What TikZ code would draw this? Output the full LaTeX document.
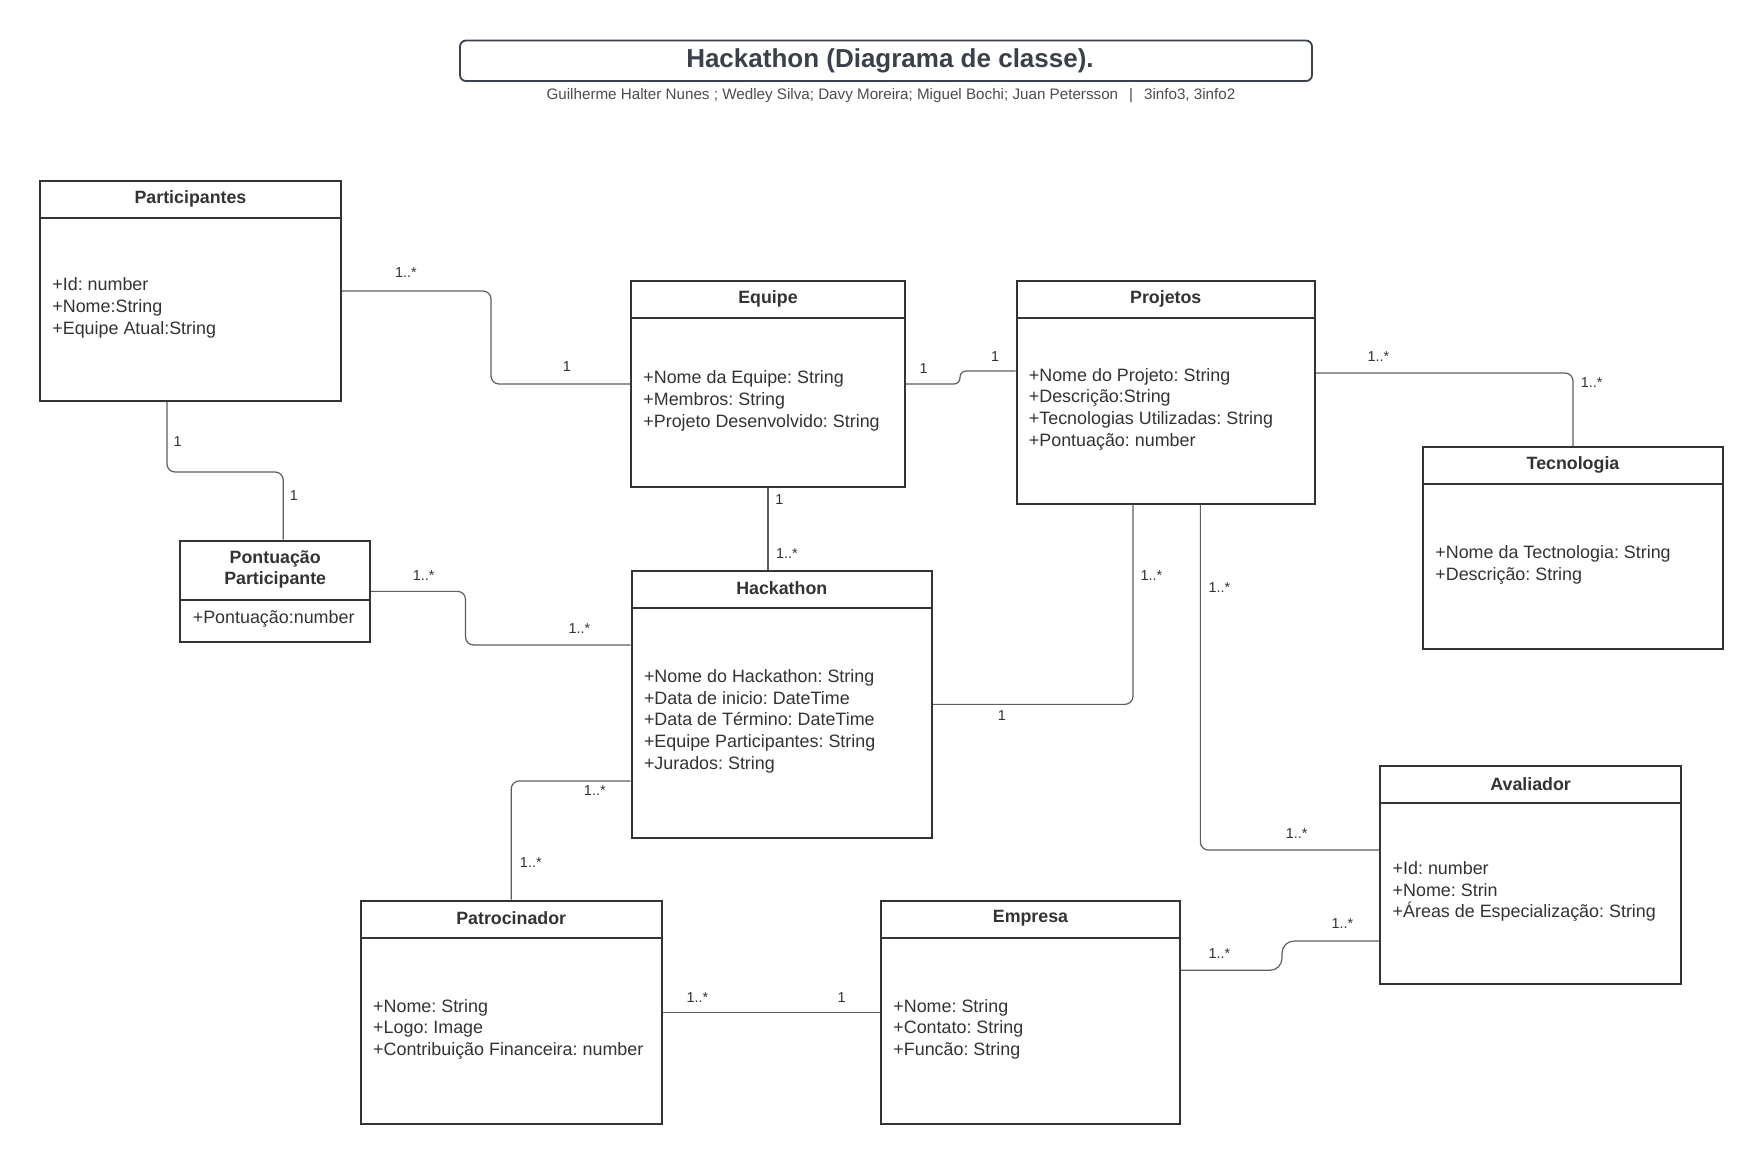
\documentclass[tikz,border=0pt]{standalone}
\usepackage{fontspec}
\setmainfont{Liberation Sans}
\usetikzlibrary{calc}
\definecolor{clsdark}{HTML}{333333}
\definecolor{txt}{HTML}{333333}
\definecolor{connclr}{HTML}{5E5E5E}
\definecolor{titleclr}{HTML}{3A414A}
\frenchspacing
\begin{document}
\begin{tikzpicture}[
    x=1pt,
    y=-1pt,
    font=\fontsize{8.95}{10.8}\selectfont,
    cls/.style={draw=clsdark, line width=1pt, anchor=north west, inner sep=0pt},
    clsname/.style={anchor=north, inner sep=0pt, align=center, text=txt, font=\fontsize{8.9}{10.5}\selectfont\bfseries},
    attrs/.style={anchor=west, inner sep=0pt, align=left, text=txt},
    conn/.style={draw=connclr, line width=0.6pt, rounded corners=4pt},
    mult/.style={inner sep=0pt, text=txt, font=\fontsize{7.2}{8}\selectfont}
]
\useasboundingbox[fill=white] (0,0) rectangle (881.5,581.5);

% title
\node[draw=titleclr, line width=0.9pt, rounded corners=3pt, minimum width=426pt, minimum height=20.25pt,
      inner sep=0pt] (title) at (443,30.4) {};
\node[inner sep=0pt, text=titleclr, font=\fontsize{13}{15}\selectfont\bfseries] (title-t) at (445,30.6)
      {Hackathon (Diagrama de classe).};
\node[inner sep=0pt, text=black!70, font=\fontsize{7.6}{9}\selectfont] (authors) at (445.5,48)
      {Guilherme Halter Nunes ; Wedley Silva; Davy Moreira; Miguel Bochi; Juan Petersson \ \,|\ \, 3info3, 3info2};

% classes
\node[cls, minimum width=150.5pt, minimum height=110pt] (participantes) at (19.5,90) {};
\node[clsname, minimum height=18.5pt] (participantes-t) at (participantes.north) {Participantes};
\draw[clsdark, line width=1pt] (participantes-t.south -| participantes.west) -- (participantes-t.south -| participantes.east);
\node[attrs] (participantes-a) at ($(participantes-t.south -| participantes.west)!0.5!(participantes.south west)+(6.5,-1)$)
      {+Id: number\\+Nome:String\\+Equipe Atual:String};

\node[cls, minimum width=137pt, minimum height=103pt] (equipe) at (315,140) {};
\node[clsname, minimum height=18.5pt] (equipe-t) at (equipe.north) {Equipe};
\draw[clsdark, line width=1pt] (equipe-t.south -| equipe.west) -- (equipe-t.south -| equipe.east);
\node[attrs] (equipe-a) at ($(equipe-t.south -| equipe.west)!0.5!(equipe.south west)+(6.5,-1)$)
      {+Nome da Equipe: String\\+Membros: String\\+Projeto Desenvolvido: String};

\node[cls, minimum width=149.25pt, minimum height=111.25pt] (projetos) at (507.75,140) {};
\node[clsname, minimum height=18.5pt] (projetos-t) at (projetos.north) {Projetos};
\draw[clsdark, line width=1pt] (projetos-t.south -| projetos.west) -- (projetos-t.south -| projetos.east);
\node[attrs] (projetos-a) at ($(projetos-t.south -| projetos.west)!0.5!(projetos.south west)+(6.5,-1)$)
      {+Nome do Projeto: String\\+Descrição:String\\+Tecnologias Utilizadas: String\\+Pontuação: number};

\node[cls, minimum width=150pt, minimum height=100.75pt] (tecnologia) at (711,223) {};
\node[clsname, minimum height=18.5pt] (tecnologia-t) at (tecnologia.north) {Tecnologia};
\draw[clsdark, line width=1pt] (tecnologia-t.south -| tecnologia.west) -- (tecnologia-t.south -| tecnologia.east);
\node[attrs] (tecnologia-a) at ($(tecnologia-t.south -| tecnologia.west)!0.5!(tecnologia.south west)+(6.5,-1)$)
      {+Nome da Tectnologia: String\\+Descrição: String};

\node[cls, minimum width=94.8pt, minimum height=50.65pt] (pontuacao) at (89.7,269.85) {};
\node[clsname, minimum height=29.5pt] (pontuacao-t) at (pontuacao.north) {Pontuação\\Participante};
\draw[clsdark, line width=1pt] (pontuacao-t.south -| pontuacao.west) -- (pontuacao-t.south -| pontuacao.east);
\node[attrs] (pontuacao-a) at ($(pontuacao-t.south -| pontuacao.west)!0.5!(pontuacao.south west)+(6.5,-1)$)
      {+Pontuação:number};

\node[cls, minimum width=150.2pt, minimum height=133.65pt] (hackathon) at (315.3,284.85) {};
\node[clsname, minimum height=18.5pt] (hackathon-t) at (hackathon.north) {Hackathon};
\draw[clsdark, line width=1pt] (hackathon-t.south -| hackathon.west) -- (hackathon-t.south -| hackathon.east);
\node[attrs] (hackathon-a) at ($(hackathon-t.south -| hackathon.west)!0.5!(hackathon.south west)+(6.5,-1)$)
      {+Nome do Hackathon: String\\+Data de inicio: DateTime\\+Data de Término: DateTime\\+Equipe Participantes: String\\+Jurados: String};

\node[cls, minimum width=150.35pt, minimum height=108.85pt] (avaliador) at (689.65,382.5) {};
\node[clsname, minimum height=18.5pt] (avaliador-t) at (avaliador.north) {Avaliador};
\draw[clsdark, line width=1pt] (avaliador-t.south -| avaliador.west) -- (avaliador-t.south -| avaliador.east);
\node[attrs] (avaliador-a) at ($(avaliador-t.south -| avaliador.west)!0.5!(avaliador.south west)+(6.5,-1)$)
      {+Id: number\\+Nome: Strin\\+Áreas de Especialização: String};

\node[cls, minimum width=150.4pt, minimum height=111.65pt] (patrocinador) at (179.9,449.85) {};
\node[clsname, minimum height=18.5pt] (patrocinador-t) at (patrocinador.north) {Patrocinador};
\draw[clsdark, line width=1pt] (patrocinador-t.south -| patrocinador.west) -- (patrocinador-t.south -| patrocinador.east);
\node[attrs] (patrocinador-a) at ($(patrocinador-t.south -| patrocinador.west)!0.5!(patrocinador.south west)+(6.5,-1)$)
      {+Nome: String\\+Logo: Image\\+Contribuição Financeira: number};

\node[cls, minimum width=149.5pt, minimum height=111.65pt] (empresa) at (440,449.85) {};
\node[clsname, minimum height=18.5pt] (empresa-t) at (empresa.north) {Empresa};
\draw[clsdark, line width=1pt] (empresa-t.south -| empresa.west) -- (empresa-t.south -| empresa.east);
\node[attrs] (empresa-a) at ($(empresa-t.south -| empresa.west)!0.5!(empresa.south west)+(6.5,-1)$)
      {+Nome: String\\+Contato: String\\+Funcão: String};

% associations
\draw[conn] (participantes.east) -- ++(74.5,0) |- (equipe.west);
\draw[conn] ([xshift=-11.75pt]participantes.south) -- ++(0,35) -| ([xshift=4pt]pontuacao.north);
\draw[conn] (pontuacao.east) -- ++(47.25,0) |- ([yshift=29.7pt]hackathon.west);
\draw[conn] (equipe.south) -- (equipe.south |- hackathon.north);
\draw[conn, rounded corners=3pt] (equipe.east) -- ++(27,0) |- ([yshift=10.6pt]projetos.west);
\draw[conn] ([yshift=9.6pt]projetos.east) -| (tecnologia.north);
\draw[conn] (hackathon.east) -| ([xshift=-16.4pt]projetos.south);
\draw[conn] ([xshift=17.3pt]projetos.south) |- ([yshift=12.4pt]avaliador.west);
\draw[conn] ([yshift=-38.3pt]hackathon.west) -| (patrocinador.north);
\draw[conn] (patrocinador.east) -- (empresa.west);
\draw[conn, rounded corners=6pt] ([yshift=21.05pt]empresa.east) -- ++(50.5,0) |- ([yshift=-33.1pt]avaliador.west);

% multiplicities
\node[mult] (m1a) at (203,136.5) {1..*};
\node[mult] (m1b) at (283.4,183.3) {1};
\node[mult] (m2a) at (88.8,221) {1};
\node[mult] (m2b) at (146.9,247.8) {1};
\node[mult] (m3a) at (211.8,288) {1..*};
\node[mult] (m3b) at (289.7,314.2) {1..*};
\node[mult] (m4a) at (389.7,249.7) {1};
\node[mult] (m4b) at (393.4,276.7) {1..*};
\node[mult] (m5a) at (461.8,184.2) {1};
\node[mult] (m5b) at (497.5,178.3) {1};
\node[mult] (m6a) at (689.2,178.2) {1..*};
\node[mult] (m6b) at (795.8,191.4) {1..*};
\node[mult] (m7a) at (500.9,357.6) {1};
\node[mult] (m7b) at (575.7,287.9) {1..*};
\node[mult] (m8a) at (609.7,293.8) {1..*};
\node[mult] (m8b) at (648.3,416.7) {1..*};
\node[mult] (m9a) at (297.4,395.5) {1..*};
\node[mult] (m9b) at (265.4,431.2) {1..*};
\node[mult] (m10a) at (348.7,498.8) {1..*};
\node[mult] (m10b) at (420.8,498.8) {1};
\node[mult] (m11a) at (609.7,477) {1..*};
\node[mult] (m11b) at (671.2,462) {1..*};
\end{tikzpicture}
\end{document}
